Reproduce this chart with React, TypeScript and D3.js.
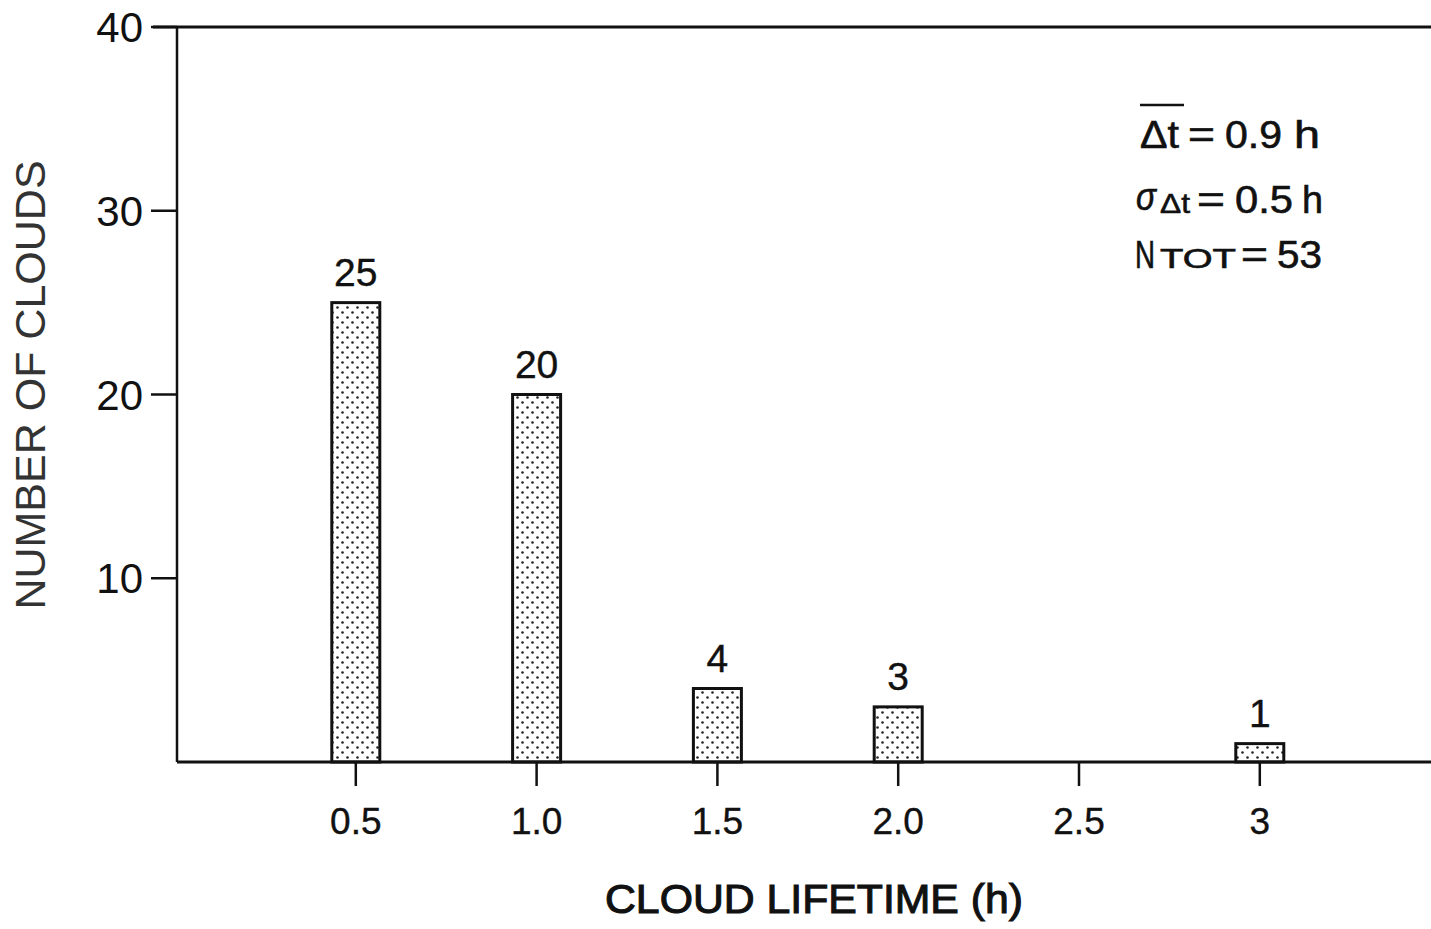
import React from "react";
import * as d3 from "d3";

const lifetimes = [0.5, 1.0, 1.5, 2.0, 3.0];
const counts = [25, 20, 4, 3, 1];
const xTickValues = [0.5, 1.0, 1.5, 2.0, 2.5, 3.0];
const xTickLabels = ["0.5", "1.0", "1.5", "2.0", "2.5", "3"];
const yTickValues = [10, 20, 30, 40];
const yTickLabels = ["10", "20", "30", "40"];

const W = 1431;
const H = 929;
const FONT = "'Liberation Sans', Arial, Helvetica, sans-serif";

type Piece = { t: string; x: number; w: number; size?: number; italic?: boolean; dy?: number };

const annLine1: Piece[] = [
  { t: "Δt", x: 1140, w: 39 },
  { t: "=", x: 1188, w: 27 },
  { t: "0.9", x: 1225, w: 57 },
  { t: "h", x: 1294, w: 26 },
];
const annLine2: Piece[] = [
  { t: "σ", x: 1136, w: 20, italic: true, dy: -3 },
  { t: "Δt", x: 1160, w: 30, size: 28 },
  { t: "=", x: 1197, w: 28 },
  { t: "0.5", x: 1235, w: 58 },
  { t: "h", x: 1302, w: 21 },
];
const annLine3: Piece[] = [
  { t: "N", x: 1135, w: 20 },
  { t: "TOT", x: 1160, w: 76, size: 27 },
  { t: "=", x: 1241, w: 27 },
  { t: "53", x: 1277, w: 45 },
];

export default function App() {
  const x = d3.scaleLinear().domain([0, 3.5]).range([175, 175 + 3.5 * 361.6]);
  const y = d3.scaleLinear().domain([0, 40]).range([762, 27]);
  const barW = 48;
  const axisX = 177;

  const renderLine = (pieces: Piece[], baseline: number, key: string) =>
    pieces.map((p, i) => (
      <text
        key={key + i}
        x={p.x}
        y={baseline + (p.dy ?? 0)}
        fontSize={p.size ?? 38}
        fontStyle={p.italic ? "italic" : "normal"}
        textLength={p.w}
        lengthAdjust="spacingAndGlyphs"
        fill="#111"
        stroke="#111"
        strokeWidth={0.6}
      >
        {p.t}
      </text>
    ));

  return (
    <div style={{ position: "absolute", left: 0, top: 0 }}>
      <svg width={W} height={H} style={{ display: "block", background: "#fff" }} fontFamily={FONT}>
        <defs>
          <pattern id="dots" width="10" height="10" patternUnits="userSpaceOnUse">
            <rect width="10" height="10" fill="#fff" />
            <circle cx="2.5" cy="2.5" r="1.3" fill="#222" />
            <circle cx="7.5" cy="7.5" r="1.3" fill="#222" />
          </pattern>
        </defs>

        {/* bars */}
        {lifetimes.map((v, i) => (
          <g key={i}>
            <rect
              x={x(v) - barW / 2}
              y={y(counts[i])}
              width={barW}
              height={y(0) - y(counts[i])}
              fill="url(#dots)"
              stroke="#111"
              strokeWidth={3}
            />
            <text
              x={x(v)}
              y={y(counts[i]) - 17}
              textAnchor="middle"
              fontSize={39}
              fill="#111"
              stroke="#111"
              strokeWidth={0.4}
            >
              {counts[i]}
            </text>
          </g>
        ))}

        {/* axes */}
        <line x1={axisX} x2={axisX} y1={y(40)} y2={y(0)} stroke="#111" strokeWidth={2.5} />
        <line x1={axisX} x2={W} y1={y(0)} y2={y(0)} stroke="#111" strokeWidth={3} />
        <line x1={153} x2={W} y1={y(40)} y2={y(40)} stroke="#111" strokeWidth={3} />

        {yTickValues.map((v, i) => (
          <g key={v}>
            <line x1={151} x2={axisX} y1={y(v)} y2={y(v)} stroke="#111" strokeWidth={2.5} />
            <text
              x={143}
              y={y(v)}
              dy="0.36em"
              textAnchor="end"
              fontSize={42}
              fill="#111"
            >
              {yTickLabels[i]}
            </text>
          </g>
        ))}

        {xTickValues.map((v, i) => (
          <g key={v}>
            <line x1={x(v)} x2={x(v)} y1={y(0)} y2={y(0) + 24} stroke="#111" strokeWidth={2.5} />
            <text
              x={x(v)}
              y={834}
              textAnchor="middle"
              fontSize={37}
              fill="#111"
              stroke="#111"
              strokeWidth={0.4}
            >
              {xTickLabels[i]}
            </text>
          </g>
        ))}

        {/* axis titles */}
        <text
          transform={`translate(45, 385) rotate(-90)`}
          textAnchor="middle"
          fontSize={43}
          fill="#333"
        >
          NUMBER OF CLOUDS
        </text>
        <text
          x={814}
          y={913}
          textAnchor="middle"
          fontSize={41}
          textLength={418}
          lengthAdjust="spacingAndGlyphs"
          fill="#111"
          stroke="#111"
          strokeWidth={1.1}
        >
          CLOUD LIFETIME (h)
        </text>

        {/* annotation */}
        <line x1={1140} x2={1184} y1={105} y2={105} stroke="#111" strokeWidth={2.5} />
        {renderLine(annLine1, 148, "a")}
        {renderLine(annLine2, 213, "b")}
        {renderLine(annLine3, 268, "c")}
      </svg>
    </div>
  );
}
